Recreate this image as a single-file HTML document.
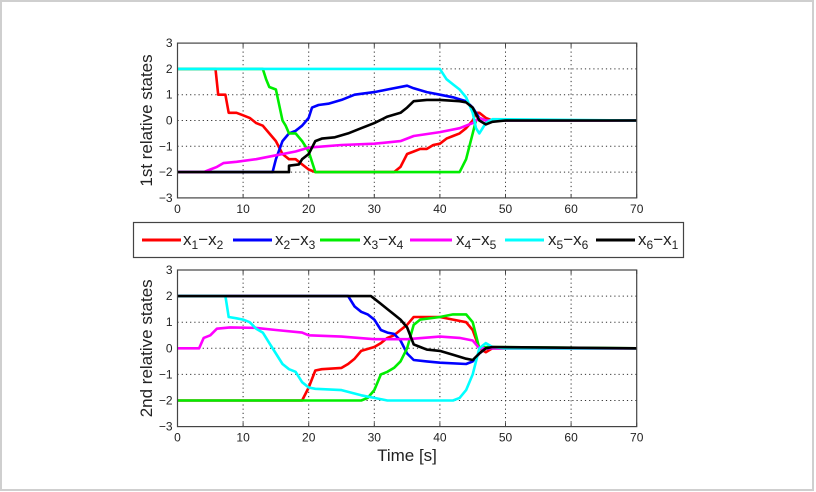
<!DOCTYPE html>
<html><head><meta charset="utf-8"><style>
html,body{margin:0;padding:0;background:#fff}
svg{display:block}
text{font-family:"Liberation Sans",sans-serif;fill:#222}
</style></head><body>
<svg id="s" width="816" height="492" xmlns="http://www.w3.org/2000/svg">
<rect x="1" y="1" width="812" height="489" fill="#fff" stroke="#cfcfcf" stroke-width="2"/>
<g id="g"></g>
<rect x="133.5" y="222.5" width="550" height="35" fill="#fff" stroke="#444" stroke-width="1.2"/>
<g font-size="17">
<line x1="142" y1="240" x2="181" y2="240" stroke="#f00" stroke-width="3"/>
<text x="183" y="245">x<tspan font-size="12" dy="4">1</tspan><tspan dy="-4">−x</tspan><tspan font-size="12" dy="4">2</tspan></text>
<line x1="233" y1="240" x2="272" y2="240" stroke="#00f" stroke-width="3"/>
<text x="275" y="245">x<tspan font-size="12" dy="4">2</tspan><tspan dy="-4">−x</tspan><tspan font-size="12" dy="4">3</tspan></text>
<line x1="320" y1="240" x2="360" y2="240" stroke="#0e0" stroke-width="3"/>
<text x="363" y="245">x<tspan font-size="12" dy="4">3</tspan><tspan dy="-4">−x</tspan><tspan font-size="12" dy="4">4</tspan></text>
<line x1="410" y1="240" x2="452" y2="240" stroke="#f0f" stroke-width="3"/>
<text x="456" y="245">x<tspan font-size="12" dy="4">4</tspan><tspan dy="-4">−x</tspan><tspan font-size="12" dy="4">5</tspan></text>
<line x1="505" y1="240" x2="544" y2="240" stroke="#0ff" stroke-width="3"/>
<text x="548" y="245">x<tspan font-size="12" dy="4">5</tspan><tspan dy="-4">−x</tspan><tspan font-size="12" dy="4">6</tspan></text>
<line x1="596" y1="240" x2="635" y2="240" stroke="#000" stroke-width="3"/>
<text x="638" y="245">x<tspan font-size="12" dy="4">6</tspan><tspan dy="-4">−x</tspan><tspan font-size="12" dy="4">1</tspan></text>
</g>
<text x="407" y="461" font-size="17" text-anchor="middle">Time [s]</text>
</svg>
<script>
var NS="http://www.w3.org/2000/svg",G=document.getElementById("g");
function el(t,a,p){var e=document.createElementNS(NS,t);for(var k in a)e.setAttribute(k,a[k]);(p||G).appendChild(e);return e;}
var X0=177.5,XS=6.56;
function plot(y0,us,label,data){
 var ytop=y0-3*us,ybot=y0+3*us,xr=X0+70*XS;
 for(var i=1;i<7;i++){var x=X0+i*10*XS;el("line",{x1:x,y1:ytop,x2:x,y2:ybot,stroke:"#333","stroke-width":1,"stroke-dasharray":"1.2,3"});}
 for(var j=-2;j<=2;j++){var y=y0-j*us;el("line",{x1:X0,y1:y,x2:xr,y2:y,stroke:"#333","stroke-width":1,"stroke-dasharray":"1.2,3"});}
 var cols=["#f00","#00f","#0e0","#f0f","#0ff","#000"];
 data.forEach(function(d,k){var pts=d.map(function(p){return (X0+p[0]*XS).toFixed(1)+","+(y0-p[1]*us).toFixed(1)}).join(" ");
  el("polyline",{points:pts,fill:"none",stroke:cols[k],"stroke-width":2.6,"stroke-linejoin":"round"});});
 el("rect",{x:X0,y:ytop,width:70*XS,height:6*us,fill:"none",stroke:"#444","stroke-width":1.2});
 for(var i=0;i<=7;i++){var x=X0+i*10*XS;var t=el("text",{x:x,y:ybot+15,"font-size":12,"text-anchor":"middle"});t.textContent=i*10;
  el("line",{x1:x,y1:ytop,x2:x,y2:ytop+4,stroke:"#444"});el("line",{x1:x,y1:ybot,x2:x,y2:ybot-4,stroke:"#444"});}
 for(var j=-3;j<=3;j++){var y=y0-j*us;var t=el("text",{x:X0-5,y:y+4,"font-size":12,"text-anchor":"end"});t.textContent=(j<0?"−":"")+Math.abs(j);}
 var t=el("text",{x:0,y:0,"font-size":17,"text-anchor":"middle",transform:"translate(152,"+y0+") rotate(-90)"});t.textContent=label;
}
plot(120.5,25.8,"1st relative states",[
[[0,2],[5.8,2],[6.2,1],[7.3,1],[7.8,0.3],[9,0.3],[10,0.2],[11,0.1],[12,-0.1],[13,-0.2],[14,-0.5],[15,-0.8],[16,-1.3],[17,-1.5],[18,-1.5],[19,-1.7],[20,-1.9],[21,-2],[33,-2],[34,-1.8],[35,-1.3],[36,-1.2],[37,-1.1],[38,-1.1],[39,-0.95],[40,-0.9],[41,-0.7],[42,-0.6],[43,-0.5],[44,-0.3],[45,0],[45.5,0.3],[46,0.3],[47,0.1],[48,0],[70,0]],
[[0,-2],[14.5,-2],[15,-1.5],[16,-0.8],[17,-0.5],[18,-0.4],[19,-0.2],[20,0.1],[20.5,0.5],[21.5,0.6],[23,0.65],[25,0.8],[27,1.0],[30,1.1],[32,1.2],[35,1.35],[36,1.25],[38,1.1],[40,1.0],[42,0.9],[44,0.75],[45,0.5],[46,0.1],[47,0],[70,0]],
[[0,2],[13,2],[13.5,1.6],[14,1.3],[15,1.2],[16,0],[16.5,-0.2],[17,-0.5],[18,-0.5],[19,-0.8],[20,-1.2],[21,-2],[43,-2],[44,-1.5],[45,-0.5],[45.5,0],[46,0.1],[47,0],[70,0]],
[[0,-2],[4,-2],[5,-1.9],[6,-1.8],[7,-1.65],[9,-1.6],[12,-1.5],[15,-1.35],[18,-1.2],[20,-1.05],[25,-0.95],[30,-0.9],[34,-0.8],[36,-0.6],[40,-0.45],[43,-0.3],[45,-0.1],[46,0.1],[47,0],[70,0]],
[[0,2],[40,2],[41,1.6],[42,1.4],[43,1.2],[44,0.9],[45,0.3],[45.5,-0.3],[46,-0.5],[47,-0.1],[48,0.05],[70,0]],
[[0,-2],[17,-2],[17,-1.75],[18.5,-1.7],[19,-1.5],[20,-1.3],[21,-0.8],[22,-0.7],[24,-0.65],[26,-0.5],[28,-0.3],[30,-0.1],[32,0.15],[34,0.3],[35,0.5],[36,0.75],[38,0.8],[40,0.8],[43,0.75],[44,0.7],[45,0.5],[46,0],[47,-0.15],[48,-0.05],[50,0],[70,0]]
]);
plot(348.3,26.1,"2nd relative states",[
[[0,-2],[19,-2],[20,-1.5],[21,-0.85],[22,-0.8],[25,-0.75],[26,-0.6],[27,-0.4],[28,-0.1],[30,0.05],[31,0.2],[32,0.4],[33,0.5],[34,0.7],[35,0.9],[36,1.2],[38,1.2],[40,1.2],[42,1.1],[44,1.0],[45,0.7],[46,0],[47,-0.15],[48,0],[70,0]],
[[0,2],[26,2],[27,1.6],[28,1.4],[29,1.3],[30,1.1],[31,0.7],[32,0.6],[33,0.55],[34,0.3],[35,-0.2],[36,-0.45],[38,-0.5],[40,-0.55],[44,-0.6],[45,-0.5],[46,-0.2],[47,0],[70,0]],
[[0,-2],[28,-2],[29,-1.9],[30,-1.6],[31,-1.0],[32,-0.9],[33,-0.75],[34,-0.5],[35,0],[36,0.9],[37,1.1],[40,1.2],[42,1.3],[44,1.3],[45,1.0],[46,0],[47,0.05],[70,0]],
[[0,0],[3.3,0],[4,0.4],[5,0.5],[6,0.75],[8,0.8],[12,0.78],[15,0.7],[19,0.6],[20,0.5],[25,0.45],[30,0.35],[35,0.35],[40,0.45],[43,0.4],[45,0.3],[46,0],[70,0]],
[[0,2],[7.3,2],[7.8,1.2],[9,1.15],[10,1.1],[11,1.0],[12,0.75],[13,0.6],[14,0.2],[15,-0.2],[16,-0.6],[17,-0.8],[18,-0.9],[19,-1.3],[20,-1.5],[21,-1.55],[25,-1.6],[28,-1.8],[30,-1.9],[32,-2],[42,-2],[43,-1.9],[44,-1.6],[45,-1.0],[46,0],[47,0.2],[48,0.05],[50,0],[70,0]],
[[0,2],[29.5,2],[30,1.9],[31,1.7],[32,1.5],[33,1.3],[34,1.1],[35,0.8],[36,0.15],[37,0.05],[38,-0.05],[40,-0.1],[42,-0.25],[44,-0.4],[45,-0.45],[46,-0.2],[47,0],[48,0.05],[70,0]]
]);
</script>
</body></html>
